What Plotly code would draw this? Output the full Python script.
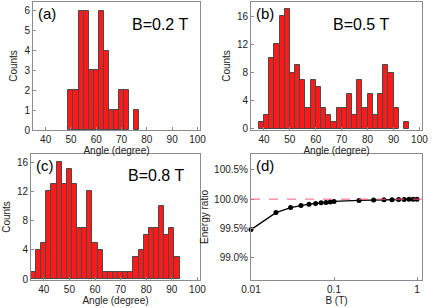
import plotly.graph_objects as go

# ---- data ----
angle_a = [50, 52, 54, 56, 58, 60, 62, 64, 66, 68, 70, 72, 76]
counts_a = [2, 2, 6, 6, 3, 3, 6, 4, 1, 1, 2, 2, 1]

angle_b = [39, 41, 43, 45, 47, 49, 51, 53, 55, 57, 59, 61, 63, 65, 67, 69, 71,
           73, 75, 77, 79, 81, 83, 85, 87, 89, 91, 95]
counts_b = [1, 2, 10, 12, 16, 17, 8, 9, 7, 3, 7, 6, 3, 2, 1, 3, 3,
            5, 2, 7, 3, 5, 2, 5, 9, 8, 3, 1]

angle_c = [36, 38, 40, 42, 44, 46, 48, 50, 52, 54, 56, 58, 60, 62, 64, 66, 68,
           70, 72, 74, 76, 78, 80, 82, 84, 86, 88, 90, 92]
counts_c = [1, 4, 5, 12, 13, 16, 13, 15, 13, 7, 7, 12, 5, 4, 1, 1, 1,
            1, 1, 1, 3, 4, 6, 7, 7, 10, 6, 7, 3]

field_d = [0.01, 0.02, 0.03, 0.04, 0.05, 0.06, 0.07, 0.08, 0.09, 0.1,
           0.2, 0.3, 0.4, 0.5, 0.6, 0.7, 0.8, 0.9, 1.0]
ratio_d = [99.48, 99.77, 99.855, 99.89, 99.913, 99.925, 99.937, 99.944, 99.953, 99.96,
           99.977, 99.983, 99.988, 99.99, 99.993, 99.995, 99.996, 99.997, 99.998]

panel_labels = ["(a)", "(b)", "(c)", "(d)"]
field_labels = ["B=0.2 T", "B=0.5 T", "B=0.8 T"]

# ---- layout geometry (pixels) ----
W, H = 436, 308
def xd(a, b):
    return [a / W, b / W]
def yd(top, bottom):
    return [1 - bottom / H, 1 - top / H]

FONT = "Liberation Sans, Arial, sans-serif"
BAR_RED = "#ff1a1a"
EDGE = "#4a4a4a"
FRAME = "#8c8c8c"
TXT = "#222"

fig = go.Figure()

def add_hist(x, y, xa, ya):
    fig.add_trace(go.Bar(x=x, y=y, width=2, xaxis=xa, yaxis=ya,
                         marker=dict(color=BAR_RED, line=dict(color=EDGE, width=1)),
                         showlegend=False))

add_hist(angle_a, counts_a, "x", "y")
add_hist(angle_b, counts_b, "x2", "y2")
add_hist(angle_c, counts_c, "x3", "y3")

fig.add_trace(go.Scatter(x=field_d, y=ratio_d, xaxis="x4", yaxis="y4",
                         mode="lines+markers",
                         line=dict(color="black", width=1.3),
                         marker=dict(color="black", size=5),
                         cliponaxis=False, showlegend=False))

axis_common = dict(showline=True, mirror=True, linecolor=FRAME, linewidth=1,
                   ticks="inside", ticklen=3, tickcolor=FRAME, showgrid=False,
                   zeroline=False, automargin=False,
                   tickfont=dict(family=FONT, size=10, color=TXT))

def ttl(text, standoff):
    return dict(text=text, font=dict(family=FONT, size=10, color=TXT), standoff=standoff)

ang_ticks = [40, 50, 60, 70, 80, 90, 100]

fig.update_layout(
    template="none",
    width=W, height=H, margin=dict(l=0, r=0, t=0, b=0, pad=0),
    paper_bgcolor="white", plot_bgcolor="white", bargap=0,
    font=dict(family=FONT),
    xaxis=dict(domain=xd(33, 200), anchor="y", range=[35, 101], tickvals=ang_ticks,
               title=ttl("Angle (degree)", 0), **axis_common),
    yaxis=dict(domain=yd(2, 130), anchor="x", range=[0, 6.45], tickvals=[0, 1, 2, 3, 4, 5, 6],
               title=ttl("Counts", 4), **axis_common),
    xaxis2=dict(domain=xd(251, 422), anchor="y2", range=[35, 101], tickvals=ang_ticks,
                title=ttl("Angle (degree)", 0), **axis_common),
    yaxis2=dict(domain=yd(2, 130), anchor="x2", range=[-0.15, 18], tickvals=[0, 4, 8, 12, 16],
                title=ttl("Counts", 4), **axis_common),
    xaxis3=dict(domain=xd(31, 200), anchor="y3", range=[35, 101], tickvals=ang_ticks,
                title=ttl("Angle (degree)", 0), **axis_common),
    yaxis3=dict(domain=yd(154, 280), anchor="x3", range=[-0.1, 17.1], tickvals=[0, 4, 8, 12, 16],
                title=ttl("Counts", 4), **axis_common),
    xaxis4=dict(domain=xd(251, 422), anchor="y4", type="log", range=[-2, 0.06],
                tickvals=[0.01, 0.1, 1], ticktext=["0.01", "0.1", "1"],
                title=ttl("B (T)", 2), **axis_common),
    yaxis4=dict(domain=yd(154, 280), anchor="x4", range=[98.62, 100.77],
                tickvals=[99.0, 99.5, 100.0, 100.5], ticktext=["99.0%", "99.5%", "100.0%", "100.5%"],
                title=ttl("Energy ratio", 3), **axis_common),
)

# reference line at 100 %
fig.add_shape(type="line", xref="x4 domain", yref="y4", x0=0, x1=1, y0=100, y1=100,
              line=dict(color="#ff5a78", width=1, dash="dash"))

# panel and field labels
for i, lab in enumerate(panel_labels):
    sx = "" if i == 0 else str(i + 1)
    fig.add_annotation(text=lab, xref=f"x{sx} domain", yref=f"y{sx} domain", x=0.02, y=0.99,
                       xanchor="left", yanchor="top", showarrow=False,
                       font=dict(family=FONT, size=15, color="black"))
field_label_x = [0.94, 0.82, 0.92]
for i, lab in enumerate(field_labels):
    sx = "" if i == 0 else str(i + 1)
    fig.add_annotation(text=lab, xref=f"x{sx} domain", yref=f"y{sx} domain", x=field_label_x[i], y=0.91,
                       xanchor="right", yanchor="top", showarrow=False,
                       font=dict(family=FONT, size=16, color="black"))

fig.write_html("out.html", config={"displayModeBar": False},
               post_script="document.body.style.margin='0';")
